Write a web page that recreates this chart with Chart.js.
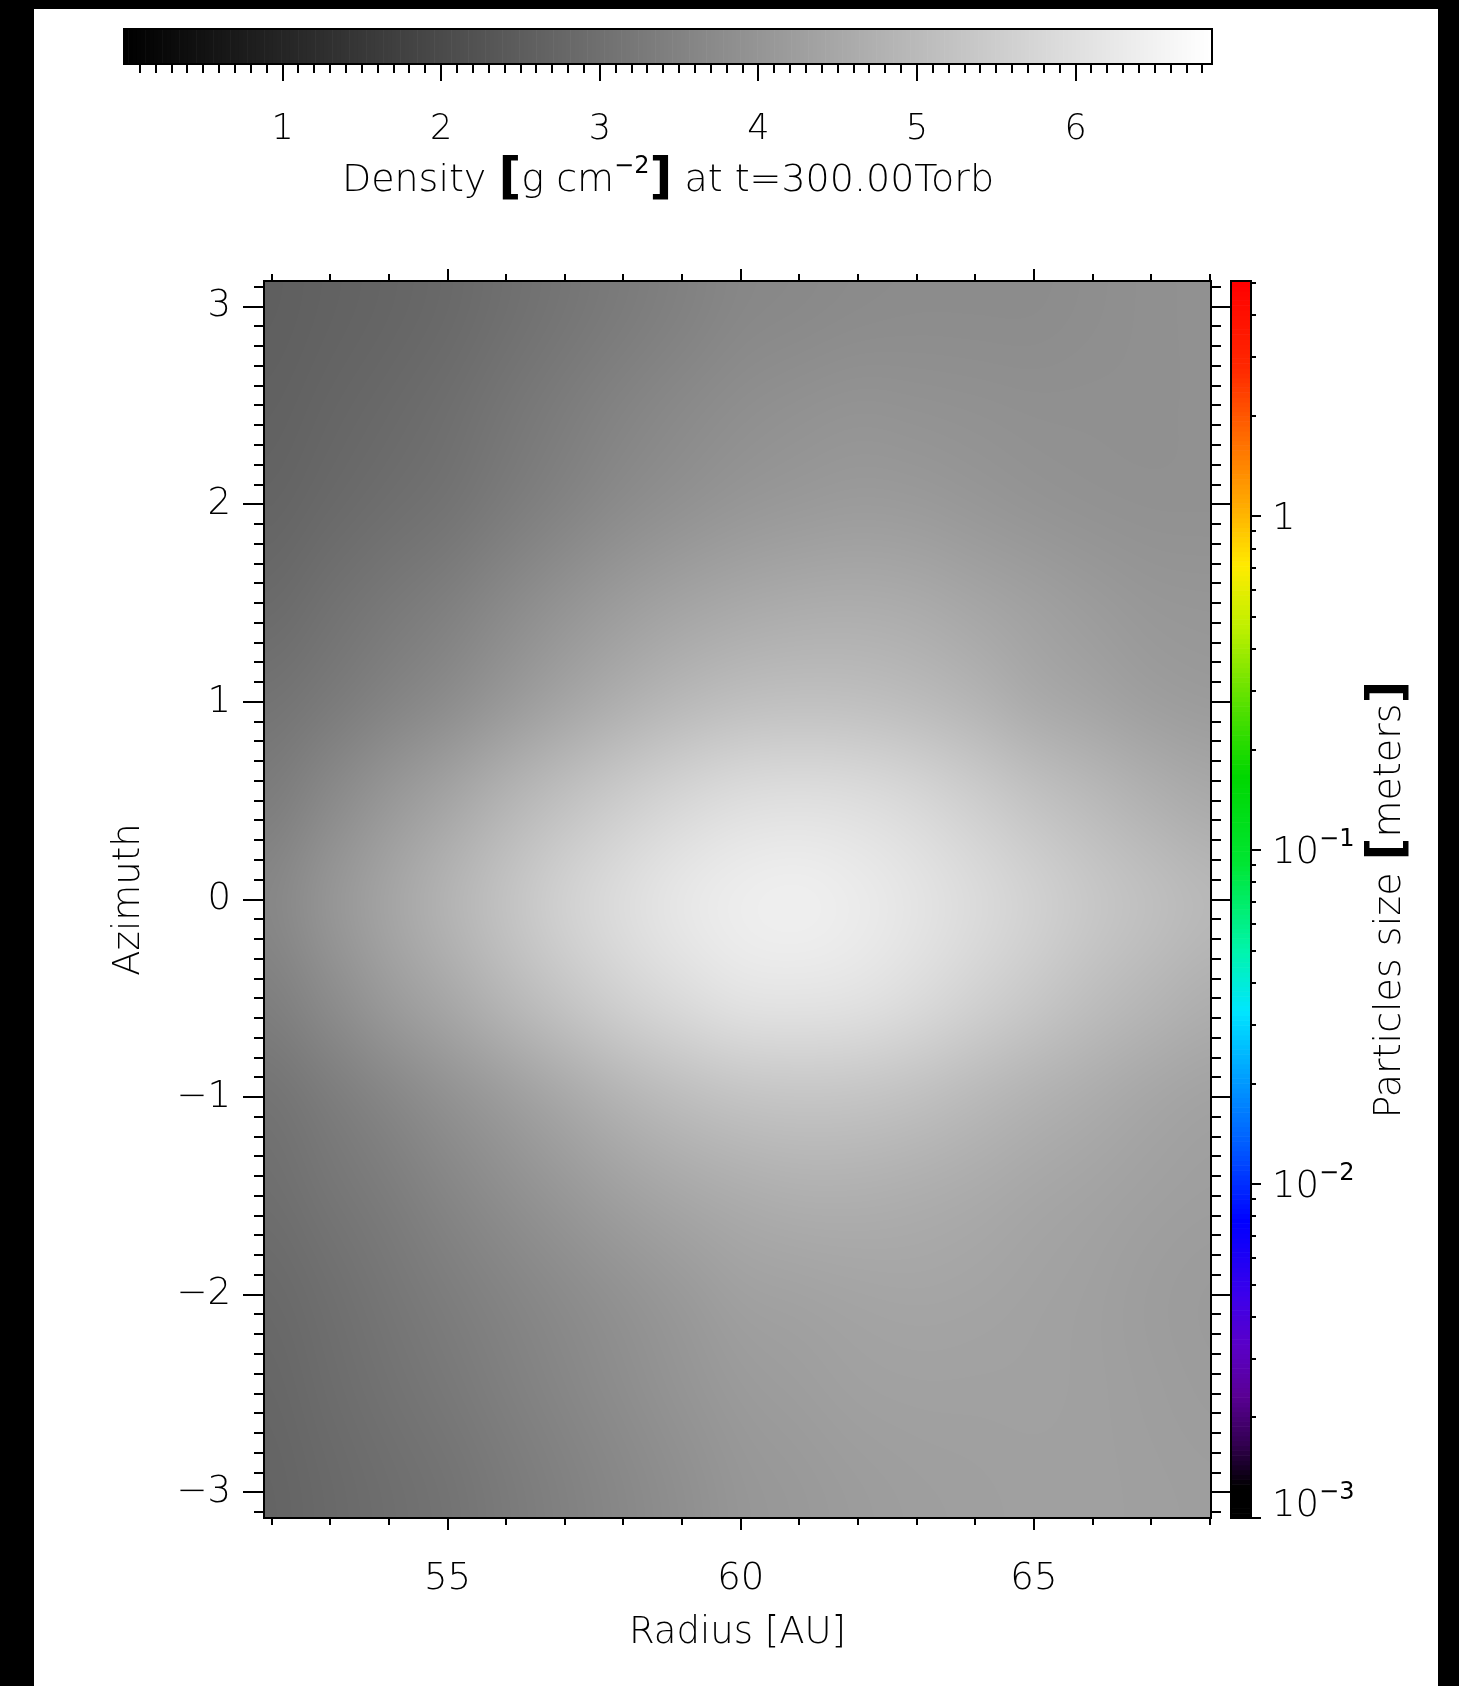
<!DOCTYPE html>
<html>
<head>
<meta charset="utf-8">
<title>Density at t=300.00Torb</title>
<script src="https://cdn.jsdelivr.net/npm/chart.js@4.4.1/dist/chart.umd.min.js"></script>
<style>
  html, body { margin: 0; padding: 0; background: #000; }
  body { width: 1459px; height: 1686px; position: relative; overflow: hidden; }
  #page { position: absolute; left: 34px; top: 9px; width: 1404px; height: 1677px; background: #fff; }
  canvas { position: absolute; top: 0; }
  #main, #cbTop { left: 0; }
  #cbRight { left: 1200px; }
</style>
</head>
<body>
<div id="page"></div>
<canvas id="main" width="1459" height="1686"></canvas>
<canvas id="cbTop" width="1459" height="240"></canvas>
<canvas id="cbRight" width="259" height="1686"></canvas>
<script>
// grid of the density map (cell centres)
const radius = [52, 53, 54, 55, 56, 57, 58, 59, 60, 61, 62, 63, 64, 65, 66, 67, 68]
const azimuth = [3, 2.5, 2, 1.5, 1, 0.5, 0, -0.5, -1, -1.5, -2, -2.5, -3]
// density [g cm^-2], one row per azimuth, one column per radius
const density = [
  [2.56, 2.64, 2.72, 2.82, 2.99, 3.15, 3.31, 3.47, 3.63, 3.69, 3.74, 3.77, 3.77, 3.77, 3.82, 3.87, 3.90],
  [2.61, 2.72, 2.82, 2.96, 3.15, 3.34, 3.52, 3.69, 3.82, 3.90, 3.95, 3.93, 3.90, 3.87, 3.87, 3.87, 3.90],
  [2.69, 2.82, 2.96, 3.09, 3.31, 3.52, 3.74, 3.90, 4.04, 4.12, 4.17, 4.14, 4.06, 3.98, 3.93, 3.90, 3.90],
  [2.85, 3.04, 3.23, 3.42, 3.69, 3.95, 4.20, 4.39, 4.52, 4.60, 4.63, 4.57, 4.44, 4.30, 4.17, 4.06, 4.04],
  [3.09, 3.28, 3.52, 3.77, 4.09, 4.41, 4.71, 4.95, 5.11, 5.17, 5.14, 5.03, 4.84, 4.57, 4.41, 4.25, 4.17],
  [3.36, 3.71, 4.09, 4.44, 4.84, 5.19, 5.52, 5.78, 5.97, 6.03, 5.97, 5.81, 5.54, 5.25, 5.00, 4.76, 4.57],
  [3.63, 4.04, 4.44, 4.84, 5.25, 5.65, 5.97, 6.24, 6.40, 6.46, 6.35, 6.16, 5.92, 5.65, 5.38, 5.17, 4.98],
  [3.42, 3.77, 4.17, 4.52, 4.92, 5.30, 5.65, 5.92, 6.13, 6.16, 6.11, 5.92, 5.65, 5.38, 5.11, 4.90, 4.71],
  [3.09, 3.34, 3.60, 3.90, 4.20, 4.52, 4.84, 5.08, 5.25, 5.30, 5.27, 5.17, 4.98, 4.79, 4.63, 4.47, 4.36],
  [2.96, 3.15, 3.34, 3.58, 3.82, 4.06, 4.30, 4.49, 4.63, 4.71, 4.71, 4.65, 4.57, 4.47, 4.39, 4.30, 4.25],
  [2.82, 2.99, 3.17, 3.36, 3.55, 3.74, 3.93, 4.12, 4.30, 4.36, 4.41, 4.44, 4.41, 4.36, 4.30, 4.22, 4.17],
  [2.74, 2.91, 3.07, 3.23, 3.42, 3.60, 3.79, 3.98, 4.14, 4.22, 4.30, 4.33, 4.33, 4.33, 4.30, 4.25, 4.20],
  [2.69, 2.82, 2.96, 3.09, 3.28, 3.47, 3.66, 3.85, 4.04, 4.12, 4.20, 4.25, 4.28, 4.30, 4.30, 4.28, 4.25]
]
const radiusRange = [51.87, 68.02]
const azimuthRange = [-3.13, 3.13]
const radiusTicks = [55, 60, 65]
const azimuthTicks = [-3, -2, -1, 0, 1, 2, 3]
const densityRange = [0, 6.86]
const densityTicks = [1, 2, 3, 4, 5, 6]
const sizeRange = [1e-3, 5.06]
const sizeTicks = [1e-3, 1e-2, 1e-1, 1]

// rainbow table of the particle size bar (fraction from bottom, r, g, b)
const rainbow = [
  [0.00, 0, 0, 0], [0.025, 0, 0, 0], [0.06, 50, 0, 80], [0.10, 90, 0, 150], [0.14, 90, 0, 200],
  [0.18, 60, 0, 235], [0.24, 0, 0, 255], [0.30, 0, 90, 255], [0.35, 0, 150, 255], [0.41, 0, 230, 255],
  [0.46, 0, 245, 170], [0.53, 0, 230, 50], [0.60, 0, 215, 0], [0.66, 90, 225, 0], [0.72, 190, 240, 0],
  [0.77, 255, 235, 0], [0.82, 255, 170, 0], [0.88, 255, 100, 0], [0.93, 255, 40, 0], [1.00, 255, 0, 0]
]

const FONT = "'DejaVu Sans', 'Liberation Sans', sans-serif"
const W = '300'
Chart.defaults.font.family = FONT
Chart.defaults.font.size = 37
Chart.defaults.font.weight = W
Chart.defaults.color = '#000'

const grayOf = d => {
  const t = (d - densityRange[0]) / (densityRange[1] - densityRange[0])
  return Math.round(255 * Math.max(0, Math.min(1, t)))
}

const rainbowOf = f => {
  for (let i = 1; i < rainbow.length; i++) {
    if (f <= rainbow[i][0]) {
      const a = rainbow[i - 1], b = rainbow[i]
      const t = (f - a[0]) / (b[0] - a[0])
      return `rgb(${[1, 2, 3].map(k => Math.round(a[k] + (b[k] - a[k]) * t)).join(',')})`
    }
  }
  return 'rgb(255,0,0)'
}

// text with pieces in different sizes (superscripts, big brackets)
function drawRich(ctx, parts, x, y, align) {
  let w = 0
  parts.forEach(p => { ctx.font = p[1]; w += ctx.measureText(p[0]).width })
  let cx = align === 'center' ? x - w / 2 : x
  ctx.textAlign = 'left'
  ctx.textBaseline = 'alphabetic'
  parts.forEach(p => {
    ctx.font = p[1]
    ctx.fillText(p[0], cx, y + (p[2] || 0))
    cx += ctx.measureText(p[0]).width
  })
}

const base = {
  responsive: false,
  animation: false,
  devicePixelRatio: 1,
  events: [],
  plugins: { legend: { display: false }, tooltip: { enabled: false } }
}

// density map
const heatmap = {
  id: 'heatmap',
  beforeDatasetsDraw(chart) {
    const { ctx, chartArea: a, scales: { x, y } } = chart
    const nx = radius.length, ny = azimuth.length
    const off = document.createElement('canvas')
    off.width = nx + 2
    off.height = ny + 2
    const octx = off.getContext('2d')
    const img = octx.createImageData(nx + 2, ny + 2)
    for (let j = 0; j < ny + 2; j++) {
      for (let i = 0; i < nx + 2; i++) {
        const jj = Math.min(ny - 1, Math.max(0, j - 1))
        const ii = Math.min(nx - 1, Math.max(0, i - 1))
        const g = grayOf(density[jj][ii])
        const k = (j * (nx + 2) + i) * 4
        img.data[k] = g
        img.data[k + 1] = g
        img.data[k + 2] = g
        img.data[k + 3] = 255
      }
    }
    octx.putImageData(img, 0, 0)
    const dr = radius[1] - radius[0], da = azimuth[0] - azimuth[1]
    const x0 = x.getPixelForValue(radius[0] - dr / 2)
    const x1 = x.getPixelForValue(radius[nx - 1] + dr / 2)
    const y0 = y.getPixelForValue(azimuth[0] + da / 2)
    const y1 = y.getPixelForValue(azimuth[ny - 1] - da / 2)
    ctx.save()
    ctx.beginPath()
    ctx.rect(a.left, a.top, a.right - a.left, a.bottom - a.top)
    ctx.clip()
    ctx.imageSmoothingEnabled = true
    ctx.imageSmoothingQuality = 'high'
    ctx.drawImage(off, 1, 1, nx, ny, x0, y0, x1 - x0, y1 - y0)
    ctx.restore()
  }
}

// frame and outward ticks on all four sides
const frameTicks = {
  id: 'frameTicks',
  afterDraw(chart) {
    const { ctx, chartArea: a, scales: { x, y } } = chart
    ctx.save()
    ctx.strokeStyle = '#000'
    ctx.lineWidth = 2
    ctx.strokeRect(a.left, a.top, a.right - a.left, a.bottom - a.top)
    ctx.beginPath()
    for (let r = Math.ceil(x.min); r <= x.max; r++) {
      const px = Math.round(x.getPixelForValue(r))
      const len = r % 5 === 0 ? 12 : 7
      ctx.moveTo(px, a.bottom); ctx.lineTo(px, a.bottom + len)
      ctx.moveTo(px, a.top); ctx.lineTo(px, a.top - len)
    }
    for (let k = Math.ceil(y.min * 10); k <= Math.floor(y.max * 10); k++) {
      const py = Math.round(y.getPixelForValue(k / 10))
      const len = k % 10 === 0 ? 21 : 10
      ctx.moveTo(a.left, py); ctx.lineTo(a.left - len, py)
      ctx.moveTo(a.right, py); ctx.lineTo(a.right + len, py)
    }
    ctx.stroke()
    ctx.restore()
  }
}

new Chart(document.getElementById('main'), {
  type: 'scatter',
  data: { datasets: [] },
  options: {
    ...base,
    layout: { padding: { left: 100, top: 281, right: 248, bottom: 20 } },
    scales: {
      x: {
        type: 'linear', min: radiusRange[0], max: radiusRange[1],
        grid: { display: false, drawTicks: false }, border: { display: false },
        afterBuildTicks: s => { s.ticks = radiusTicks.map(v => ({ value: v })) },
        afterFit: s => { s.height = 148 },
        ticks: { padding: 39, autoSkip: false, maxRotation: 0 },
        title: { display: true, text: 'Radius [AU]', padding: { top: 0, bottom: 10 } }
      },
      y: {
        type: 'linear', min: azimuthRange[0], max: azimuthRange[1],
        grid: { display: false, drawTicks: false }, border: { display: false },
        afterBuildTicks: s => { s.ticks = azimuthTicks.map(v => ({ value: v })) },
        afterFit: s => { s.width = 164 },
        ticks: { padding: 33, autoSkip: false, callback: v => String(v).replace('-', '\u2212') },
        title: { display: true, text: 'Azimuth', padding: { top: 7, bottom: 0 } }
      }
    }
  },
  plugins: [heatmap, frameTicks]
})

// grey bar for density
const densityBar = {
  id: 'densityBar',
  afterDraw(chart) {
    const { ctx, chartArea: a, scales: { x } } = chart
    const n = 256
    ctx.save()
    for (let i = 0; i < n; i++) {
      const v0 = x.min + (x.max - x.min) * i / n
      const v1 = x.min + (x.max - x.min) * (i + 1) / n
      const g = grayOf((v0 + v1) / 2)
      ctx.fillStyle = `rgb(${g},${g},${g})`
      const p0 = x.getPixelForValue(v0), p1 = x.getPixelForValue(v1)
      ctx.fillRect(p0, a.top, p1 - p0 + 0.6, a.bottom - a.top)
    }
    ctx.strokeStyle = '#000'
    ctx.lineWidth = 2
    ctx.strokeRect(a.left, a.top, a.right - a.left, a.bottom - a.top)
    ctx.beginPath()
    for (let k = 1; k <= Math.floor(x.max * 10); k++) {
      const px = Math.round(x.getPixelForValue(k / 10))
      const len = k % 10 === 0 ? 17 : 9
      ctx.moveTo(px, a.bottom); ctx.lineTo(px, a.bottom + len)
    }
    ctx.stroke()
    ctx.fillStyle = '#000'
    drawRich(ctx, [
      ['Density ', `${W} 38px ${FONT}`],
      ['[', `bold 50px ${FONT}`, 2],
      ['g cm', `${W} 38px ${FONT}`],
      ['\u22122', `24px ${FONT}`, -18],
      [']', `bold 50px ${FONT}`, 2],
      [' at t=300.00Torb', `${W} 38px ${FONT}`]
    ], (a.left + a.right) / 2, 191, 'center')
    ctx.restore()
  }
}

new Chart(document.getElementById('cbTop'), {
  type: 'scatter',
  data: { datasets: [] },
  options: {
    ...base,
    layout: { padding: { left: 124, right: 247, top: 29, bottom: 10 } },
    scales: {
      x: {
        type: 'linear', min: densityRange[0], max: densityRange[1],
        grid: { display: false, drawTicks: false }, border: { display: false },
        afterBuildTicks: s => { s.ticks = densityTicks.map(v => ({ value: v })) },
        afterFit: s => { s.height = 166 },
        ticks: { padding: 45, autoSkip: false, maxRotation: 0, font: { size: 35 } }
      },
      y: { display: false, min: 0, max: 1 }
    }
  },
  plugins: [densityBar]
})

// rainbow bar for particle size
const sizeBar = {
  id: 'sizeBar',
  afterDraw(chart) {
    const { ctx, chartArea: a, scales: { y } } = chart
    const lo = Math.log10(y.min), hi = Math.log10(y.max)
    const n = 256
    ctx.save()
    for (let i = 0; i < n; i++) {
      const p0 = y.getPixelForValue(Math.pow(10, lo + (hi - lo) * i / n))
      const p1 = y.getPixelForValue(Math.pow(10, lo + (hi - lo) * (i + 1) / n))
      ctx.fillStyle = rainbowOf((i + 0.5) / n)
      ctx.fillRect(a.left, p1, a.right - a.left, p0 - p1 + 0.6)
    }
    ctx.strokeStyle = '#000'
    ctx.lineWidth = 2
    ctx.strokeRect(a.left, a.top, a.right - a.left, a.bottom - a.top)
    ctx.beginPath()
    for (let e = Math.floor(lo); e <= Math.ceil(hi); e++) {
      for (let m = 1; m <= 9; m++) {
        const v = m * Math.pow(10, e)
        if (v < y.min * 0.999 || v > y.max) continue
        const py = Math.round(y.getPixelForValue(v))
        const len = m === 1 ? 10 : 5
        ctx.moveTo(a.right, py); ctx.lineTo(a.right + len, py)
      }
    }
    ctx.stroke()
    ctx.fillStyle = '#000'
    sizeTicks.forEach(v => {
      const e = Math.round(Math.log10(v))
      const py = Math.min(y.getPixelForValue(v), a.bottom - 15)
      const parts = e === 0 ? [['1', `${W} 37px ${FONT}`]]
        : [['10', `${W} 37px ${FONT}`], ['\u2212' + Math.abs(e), `24px ${FONT}`, -17]]
      drawRich(ctx, parts, a.right + 21, py + 13, 'left')
    })
    ctx.translate(187, (a.top + a.bottom) / 2)
    ctx.rotate(-Math.PI / 2)
    drawRich(ctx, [
      ['Particles size ', `${W} 38px ${FONT}`],
      ['[', `bold 50px ${FONT}`, 2],
      ['meters', `${W} 38px ${FONT}`],
      [']', `bold 50px ${FONT}`, 2]
    ], 0, 13, 'center')
    ctx.restore()
  }
}

new Chart(document.getElementById('cbRight'), {
  type: 'scatter',
  data: { datasets: [] },
  options: {
    ...base,
    layout: { padding: { left: 31, right: 208, top: 281, bottom: 168 } },
    scales: {
      x: { display: false, min: 0, max: 1 },
      y: { type: 'logarithmic', display: false, min: sizeRange[0], max: sizeRange[1] }
    }
  },
  plugins: [sizeBar]
})
</script>
</body>
</html>
